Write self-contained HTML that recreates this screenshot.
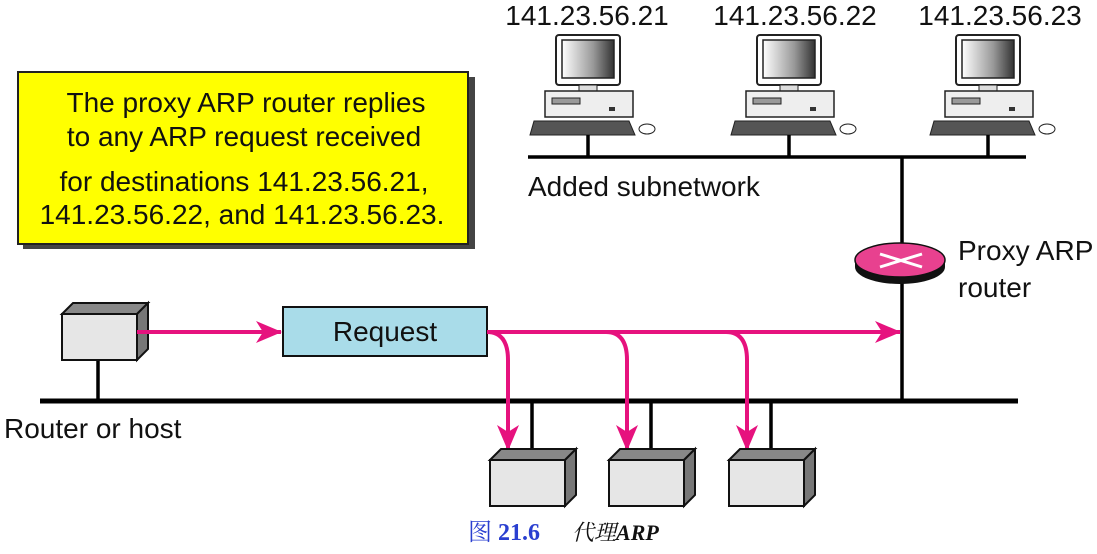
<!DOCTYPE html>
<html><head><meta charset="utf-8"><style>body{margin:0;background:#fff}svg{display:block}</style></head><body>
<svg width="1097" height="554" viewBox="0 0 1097 554" xmlns="http://www.w3.org/2000/svg" font-family="'Liberation Sans','Noto Sans CJK SC',sans-serif">
<defs>
<marker id="ah" markerWidth="26" markerHeight="22" refX="25" refY="11" orient="auto" markerUnits="userSpaceOnUse"><path d="M0,0 L26,11 L0,22 L7,11 Z" fill="#e6127e"/></marker>
<linearGradient id="sc" x1="0" x2="1"><stop offset="0" stop-color="#fff"/><stop offset="0.6" stop-color="#999"/><stop offset="1" stop-color="#333"/></linearGradient>
<g id="pc">
<rect x="-33" y="0" width="64" height="50" rx="3" fill="#fff" stroke="#222" stroke-width="2"/>
<rect x="-27" y="5" width="52" height="38" fill="url(#sc)" stroke="#222" stroke-width="1.5"/>
<rect x="-10" y="50" width="18" height="6" fill="#ddd" stroke="#222"/>
<rect x="-44" y="56" width="88" height="26" fill="#eee" stroke="#222" stroke-width="1.5"/>
<rect x="-37" y="63" width="28" height="6" fill="#999" stroke="#222"/>
<rect x="20" y="72" width="6" height="4" fill="#333"/>
<path d="M-55,86 L40,86 L46,100 L-59,100 Z" fill="#555" stroke="#222"/>
<ellipse cx="58" cy="94" rx="8" ry="5" fill="#fff" stroke="#222"/>
</g>
<g id="box">
<path d="M0,11 L11,0 L86,0 L75,11 Z" fill="#888" stroke="#111" stroke-width="2"/>
<path d="M75,11 L86,0 L86,46 L75,57 Z" fill="#777" stroke="#111" stroke-width="2"/>
<rect x="0" y="11" width="75" height="46" fill="#e6e6e6" stroke="#111" stroke-width="2"/>
</g>
</defs>
<rect x="23" y="77" width="452" height="172" fill="#444"/>
<rect x="18" y="72" width="450" height="172" fill="#ffff00" stroke="#222" stroke-width="2"/>
<g font-size="28" text-anchor="middle" fill="#111">
<text x="246" y="112">The proxy ARP router replies</text>
<text x="244" y="146">to any ARP request received</text>
<text x="244" y="191">for destinations 141.23.56.21,</text>
<text x="242" y="224">141.23.56.22, and 141.23.56.23.</text>
</g>
<g font-size="28" text-anchor="middle" fill="#111">
<text x="587" y="25">141.23.56.21</text>
<text x="795" y="25">141.23.56.22</text>
<text x="1000" y="25">141.23.56.23</text>
</g>
<use href="#pc" x="589" y="35"/>
<use href="#pc" x="790" y="35"/>
<use href="#pc" x="989" y="35"/>
<g stroke="#000" stroke-width="3.5">
<line x1="588" y1="135" x2="588" y2="156"/>
<line x1="789" y1="135" x2="789" y2="156"/>
<line x1="988" y1="135" x2="988" y2="156"/>
<line x1="528" y1="157" x2="1026" y2="157"/>
<line x1="902" y1="157" x2="902" y2="401"/>
<line x1="40" y1="401" x2="1018" y2="401" stroke-width="5"/>
<line x1="98" y1="360" x2="98" y2="401"/>
<line x1="532" y1="401" x2="532" y2="456"/>
<line x1="651" y1="401" x2="651" y2="456"/>
<line x1="771" y1="401" x2="771" y2="456"/>
</g>
<text x="528" y="196" font-size="28" fill="#111">Added subnetwork</text>
<ellipse cx="900" cy="267" rx="45" ry="17" fill="#111"/>
<rect x="855" y="260" width="90" height="7" fill="#111"/>
<ellipse cx="900" cy="260" rx="45" ry="17" fill="#e8418f" stroke="#111" stroke-width="1.5"/>
<g stroke="#fff" stroke-width="3"><line x1="880" y1="254" x2="922" y2="267"/><line x1="880" y1="267" x2="922" y2="254"/></g>
<g font-size="28" fill="#111"><text x="958" y="260">Proxy ARP</text><text x="958" y="297">router</text></g>
<use href="#box" x="62" y="303"/>
<text x="4" y="438" font-size="28" fill="#111">Router or host</text>
<rect x="283" y="307" width="204" height="49" fill="#a9dce9" stroke="#111" stroke-width="2"/>
<text x="385" y="341" font-size="28" text-anchor="middle" fill="#111">Request</text>
<g stroke="#e6127e" stroke-width="4" fill="none" marker-end="url(#ah)">
<line x1="137" y1="332" x2="281" y2="332"/>
<line x1="487" y1="332" x2="900" y2="332"/>
<path d="M487,332 Q508,332 508,360 L508,450"/>
<path d="M606,332 Q627,332 627,360 L627,450"/>
<path d="M726,332 Q747,332 747,360 L747,450"/>
</g>
<use href="#box" x="490" y="449"/>
<use href="#box" x="609" y="449"/>
<use href="#box" x="729" y="449"/>
<text x="468" y="540" font-size="24" font-family="'Liberation Serif','Noto Serif CJK SC',serif" fill="#2a3fd0">图 <tspan font-weight="bold">21.6</tspan></text>
<text x="572" y="540" font-size="22" font-style="italic" font-family="'Liberation Serif','Noto Serif CJK SC',serif" fill="#111">代理<tspan font-weight="bold">ARP</tspan></text>
</svg>
</body></html>
